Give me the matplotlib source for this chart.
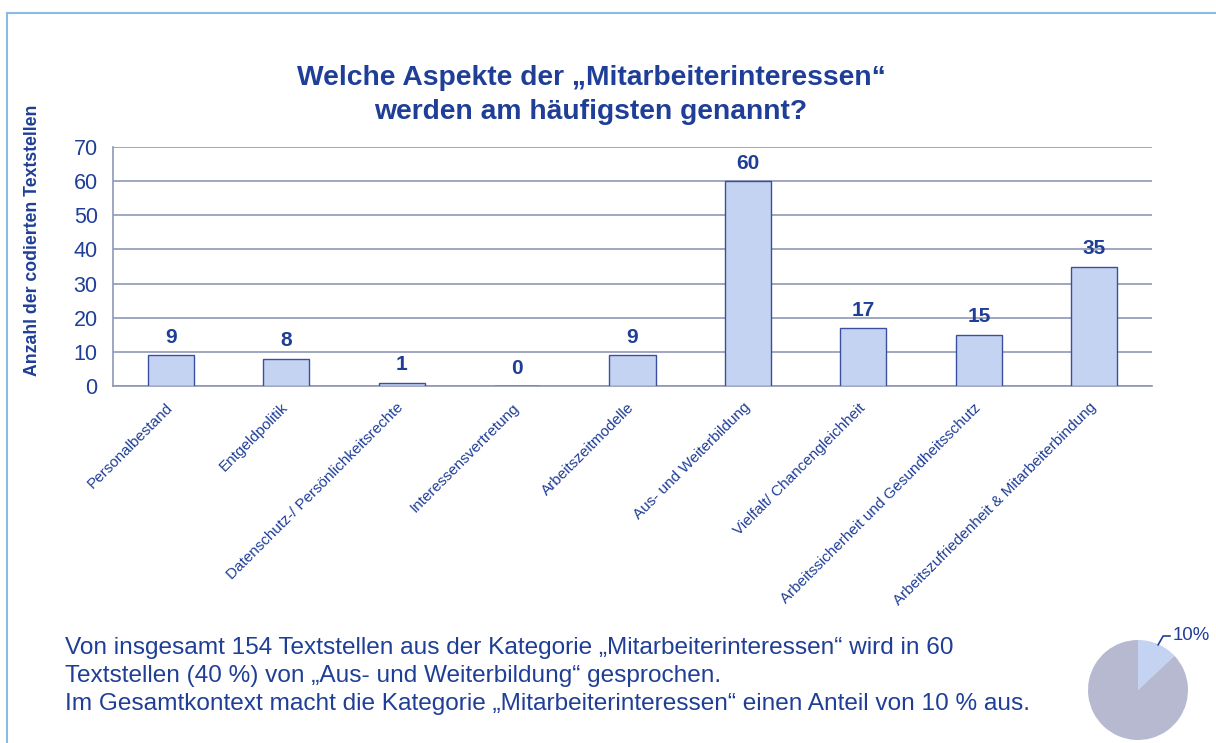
import matplotlib.pyplot as plt
import matplotlib.transforms as mtransforms

# data
categories = ["Personalbestand", "Entgeldpolitik", "Datenschutz-/ Persönlichkeitsrechte",
              "Interessensvertretung", "Arbeitszeitmodelle", "Aus- und Weiterbildung",
              "Vielfalt/ Chancengleichheit", "Arbeitssicherheit und Gesundheitsschutz",
              "Arbeitszufriedenheit & Mitarbeiterbindung"]
counts = [9, 8, 1, 0, 9, 60, 17, 15, 35]
y_ticks = [0, 10, 20, 30, 40, 50, 60, 70]
share_values = [13, 87]   # slice as drawn in the picture
share_label = "10%"

title = "Welche Aspekte der „Mitarbeiterinteressen“\nwerden am häufigsten genannt?"
ylabel = "Anzahl der codierten Textstellen"
note = ("Von insgesamt 154 Textstellen aus der Kategorie „Mitarbeiterinteressen“ wird in 60\n"
        "Textstellen (40 %) von „Aus- und Weiterbildung“ gesprochen.\n"
        "Im Gesamtkontext macht die Kategorie „Mitarbeiterinteressen“ einen Anteil von 10 % aus.")

text_color = "#1F3E97"
bar_fill = "#C5D3F3"
bar_edge = "#3A4F9E"
grid_color = "#8F97B5"

plt.rcParams['font.family'] = ['Liberation Sans', 'DejaVu Sans']

W, H = 1216, 743
fig = plt.figure(figsize=(W / 100, H / 100), dpi=100)

# light blue outer frame (top and left edges)
fig.add_artist(plt.Line2D([7 / W, 7 / W], [0, 1 - 13 / H], color="#8BBBE3", lw=1.5))
fig.add_artist(plt.Line2D([7 / W, 1], [1 - 13 / H, 1 - 13 / H], color="#8BBBE3", lw=1.5))

# main bar chart
ax = fig.add_axes([113 / W, 1 - 386 / H, (1152 - 113) / W, (386 - 147) / H])
x = range(len(categories))
ax.bar(x, counts, width=0.4, color=bar_fill, edgecolor=bar_edge, linewidth=1.0, zorder=3)
ax.set_xlim(-0.5, len(categories) - 0.5)
ax.set_ylim(0, 70)
ax.set_yticks(y_ticks)
ax.set_yticklabels([str(t) for t in y_ticks], fontsize=15.5, color=text_color)
ax.yaxis.grid(True, color=grid_color, lw=1.2, zorder=0)
ax.tick_params(axis="y", length=0, pad=11)
ax.tick_params(axis="x", length=0, pad=9)
ax.set_xticks(list(x))
ax.set_xticklabels(categories, rotation=45, ha="right", rotation_mode="anchor",
                   fontsize=11, color=text_color)
# nudge the slanted labels a little to the left, as in the reference
shift = mtransforms.ScaledTranslation(-5 / 100, -2 / 100, fig.dpi_scale_trans)
for lbl in ax.get_xticklabels():
    lbl.set_transform(lbl.get_transform() + shift)
for side in ["right", "top"]:
    ax.spines[side].set_visible(False)
for side in ["left", "bottom"]:
    ax.spines[side].set_color(grid_color)
    ax.spines[side].set_linewidth(1.2)

for xi, v in zip(x, counts):
    ax.annotate(str(v), (xi, v), xytext=(0, 6), textcoords="offset points",
                ha="center", va="bottom", fontsize=15, fontweight="bold", color=text_color)

fig.text(591 / W, 1 - 95 / H, title, ha="center", va="center", fontsize=20.3,
         fontweight="bold", color=text_color, linespacing=1.42)
fig.text(33 / W, 1 - 240 / H, ylabel, rotation=90, ha="center", va="center",
         fontsize=12.7, fontweight="bold", color=text_color)

fig.text(65 / W, 1 - 676 / H, note, ha="left", va="center", fontsize=17.6,
         color=text_color, linespacing=1.36)

# small pie with share
pax = fig.add_axes([(1138 - 50) / W, 1 - (690 + 50) / H, 100 / W, 100 / H])
pax.pie(share_values, colors=[bar_fill, "#B7B9D0"], startangle=90, counterclock=False,
        wedgeprops=dict(linewidth=0))
pax.set_xlim(-1, 1)
pax.set_ylim(-1, 1)
pax.set_aspect("equal")
pax.annotate(share_label, xy=(0.4, 0.9), xytext=(0.7, 1.08), fontsize=13.4, color=text_color,
             ha="left", va="center",
             arrowprops=dict(arrowstyle="-", color=text_color, lw=1.2, shrinkA=0, shrinkB=0,
                             connectionstyle="angle,angleA=0,angleB=60,rad=0"),
             annotation_clip=False)

fig.savefig("out.png", dpi=100, facecolor="white")
